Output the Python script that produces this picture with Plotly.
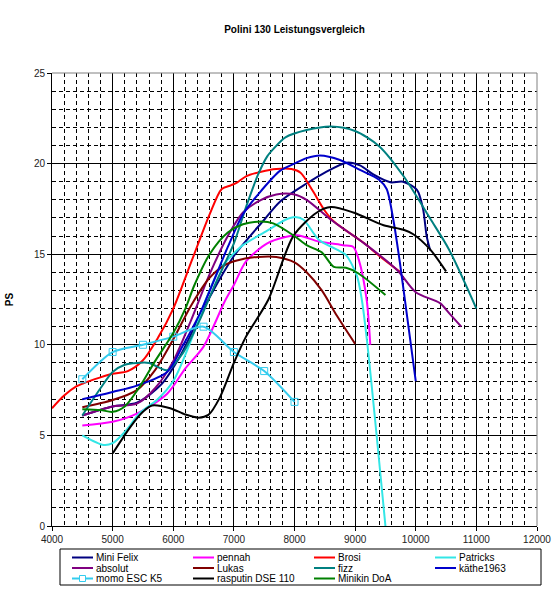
import plotly.graph_objects as go

# ---- data ----
mini_felix_rpm = [4500, 5000, 5400, 5800, 6100, 6500, 7000, 7500, 7760, 8200, 8500, 8860, 9080, 9300, 9580, 9790, 10020, 10120, 10180, 10240]
mini_felix_ps = [6.1, 6.6, 6.8, 7.8, 9.3, 12.0, 14.9, 16.9, 17.9, 18.9, 19.5, 20.05, 19.9, 19.4, 18.97, 19.0, 18.55, 17.5, 16.0, 15.2]

pennah_rpm = [4500, 5000, 5400, 5900, 6200, 6500, 6850, 7000, 7200, 7550, 7850, 8050, 8400, 8800, 8970, 9060, 9190, 9250]
pennah_ps = [5.55, 5.75, 6.2, 7.3, 8.7, 9.9, 12.4, 13.3, 14.6, 15.6, 15.95, 16.05, 15.7, 15.5, 15.4, 14.7, 12.5, 10.0]

brosi_rpm = [4000, 4200, 4400, 4500, 4800, 5000, 5250, 5500, 5750, 6000, 6300, 6600, 6800, 6950, 7050, 7200, 7450, 7700, 7950, 8100, 8300, 8500, 8650, 9150, 9400, 9750]
brosi_ps = [6.5, 7.2, 7.7, 7.85, 8.2, 8.4, 8.55, 9.15, 10.4, 12.0, 14.6, 17.2, 18.6, 18.8, 18.95, 19.3, 19.55, 19.7, 19.7, 19.5, 18.5, 17.4, 16.8, 15.6, 14.9, 14.0]

patricks_rpm = [4500, 4850, 5000, 5230, 5450, 5730, 6000, 6300, 6550, 6750, 6900, 7150, 7550, 7850, 8010, 8150, 8400, 8700, 8850, 9030, 9110, 9200, 9500]
patricks_ps = [5.0, 4.47, 4.57, 5.3, 6.25, 6.95, 8.0, 10.3, 12.6, 14.1, 14.7, 15.5, 16.3, 16.9, 17.05, 16.9, 15.8, 15.25, 14.95, 13.8, 12.5, 10.1, 0.0]

absolut_rpm = [4500, 5000, 5400, 5700, 6000, 6300, 6600, 6900, 7150, 7450, 7700, 8000, 8200, 8600, 9150, 9700, 10000, 10400, 10550, 10750]
absolut_ps = [6.1, 6.6, 6.75, 7.6, 9.1, 11.4, 13.9, 16.0, 17.3, 18.0, 18.3, 18.3, 18.0, 16.9, 15.6, 14.1, 12.9, 12.3, 11.75, 11.0]

lukas_rpm = [4500, 5000, 5400, 5700, 6000, 6300, 6600, 6850, 7050, 7400, 7700, 8000, 8200, 8450, 8700, 9000]
lukas_ps = [6.55, 6.95, 7.5, 8.6, 10.3, 12.2, 13.7, 14.4, 14.65, 14.85, 14.85, 14.55, 14.0, 13.0, 11.6, 10.05]

fizz_rpm = [4500, 4800, 5000, 5200, 5400, 5600, 5900, 6150, 6400, 6700, 7000, 7200, 7400, 7550, 7650, 7850, 8200, 8600, 9000, 9400, 9800, 10250, 10550, 11000]
fizz_ps = [6.1, 7.6, 8.5, 8.9, 9.0, 9.0, 8.6, 9.5, 11.1, 13.4, 15.6, 17.6, 19.4, 20.4, 20.8, 21.45, 21.85, 22.05, 21.8, 20.95, 19.3, 16.9, 15.25, 12.0]

kaethe_rpm = [4500, 5000, 5400, 5900, 6150, 6450, 6900, 7150, 7450, 7760, 8000, 8200, 8420, 8750, 9080, 9400, 9520, 9630, 9740, 9800, 10000]
kaethe_ps = [7.0, 7.4, 7.75, 8.5, 9.9, 11.8, 15.4, 17.2, 18.5, 19.6, 20.0, 20.3, 20.45, 20.2, 19.65, 19.1, 18.6, 16.9, 14.5, 13.0, 8.0]

momo_rpm = [4500, 5000, 5500, 6000, 6500, 7000, 7500, 8000]
momo_ps = [8.1, 9.6, 10.0, 10.45, 11.0, 9.6, 8.55, 6.85]

rasputin_rpm = [5000, 5300, 5500, 5650, 5950, 6200, 6420, 6580, 6770, 7000, 7200, 7570, 7980, 8370, 8600, 8970, 9470, 9800, 9960, 10240, 10500]
rasputin_ps = [4.0, 5.5, 6.3, 6.65, 6.5, 6.15, 5.98, 6.13, 7.1, 9.0, 10.45, 12.5, 16.0, 17.3, 17.6, 17.3, 16.6, 16.35, 16.1, 15.25, 14.05]

minikin_rpm = [4500, 4800, 5000, 5200, 5450, 5700, 6000, 6200, 6350, 6600, 6900, 7150, 7450, 7650, 8000, 8200, 8450, 8650, 8850, 9050, 9500]
minikin_ps = [6.45, 6.4, 6.3, 6.6, 7.7, 9.1, 10.65, 12.0, 13.3, 15.0, 16.2, 16.65, 16.8, 16.7, 16.0, 15.5, 15.1, 14.3, 14.25, 13.95, 12.75]

series = [
    ("Mini Felix", mini_felix_rpm, mini_felix_ps, "#000080"),
    ("pennah", pennah_rpm, pennah_ps, "#FF00FF"),
    ("Brosi", brosi_rpm, brosi_ps, "#FF0000"),
    ("Patricks", patricks_rpm, patricks_ps, "#33E6E6"),
    ("absolut", absolut_rpm, absolut_ps, "#800080"),
    ("Lukas", lukas_rpm, lukas_ps, "#800000"),
    ("fizz", fizz_rpm, fizz_ps, "#008080"),
    ("käthe1963", kaethe_rpm, kaethe_ps, "#0000CC"),
    ("momo ESC K5", momo_rpm, momo_ps, "#33CCEE"),
    ("rasputin DSE 110", rasputin_rpm, rasputin_ps, "#000000"),
    ("Minikin DoA", minikin_rpm, minikin_ps, "#008000"),
]
MARKER_SERIES = "momo ESC K5"

FONT = "Liberation Sans, Arial, sans-serif"
W, H = 558, 600
L, R, T, B = 52, 21, 73, 74
pw, ph = W - L - R, H - T - B

fig = go.Figure()
for name, xs, ys, col in series:
    has_marker = name == MARKER_SERIES
    fig.add_trace(go.Scatter(
        x=xs, y=ys, name=name, mode="lines+markers" if has_marker else "lines",
        line=dict(color=col, width=2, shape="spline", smoothing=0.8),
        marker=dict(symbol="square-open", size=7, color=col, line=dict(width=1, color=col)),
        showlegend=False,
    ))

# ---- legend drawn as a boxed block below the plot (4 columns, 3 rows) ----
def px_x(p):
    return (p - L) / pw

def px_y(p):
    return (T + ph - p) / ph

box_l, box_r, box_t, box_b = 60, 541, 549, 585
fig.add_shape(type="rect", xref="paper", yref="paper", x0=px_x(box_l), x1=px_x(box_r),
              y0=px_y(box_b), y1=px_y(box_t), line=dict(color="#000000", width=1), fillcolor="white")
col_x = [72, 193, 314, 435]
row_y = [557.5, 568, 578.5]
for i, (name, xs, ys, col) in enumerate(series):
    cx = col_x[i % 4]
    cy = row_y[i // 4]
    fig.add_shape(type="line", xref="paper", yref="paper", x0=px_x(cx), x1=px_x(cx + 21),
                  y0=px_y(cy), y1=px_y(cy), line=dict(color=col, width=2))
    if name == MARKER_SERIES:
        fig.add_shape(type="rect", xref="paper", yref="paper", x0=px_x(cx + 7.5), x1=px_x(cx + 13.5),
                      y0=px_y(cy + 3), y1=px_y(cy - 3), line=dict(color=col, width=1), fillcolor="white")
    fig.add_annotation(text=name, xref="paper", yref="paper", x=px_x(cx + 22), y=px_y(cy),
                       xanchor="left", yanchor="middle", showarrow=False,
                       font=dict(size=10, family=FONT, color="#000000"))

fig.update_layout(
    width=W, height=H,
    margin=dict(l=L, r=R, t=T, b=B, autoexpand=False),
    paper_bgcolor="white", plot_bgcolor="white",
    font=dict(family=FONT, size=10, color="#000000"),
    title=dict(text="<b>Polini 130 Leistungsvergleich</b>", x=(L + pw / 2) / W, xanchor="center",
               y=1 - 29 / H, yanchor="middle", font=dict(size=10, family=FONT)),
    xaxis=dict(range=[4000, 12000], dtick=1000, tick0=4000, tickformat="d",
               showgrid=True, gridcolor="#000000", gridwidth=1,
               minor=dict(dtick=200, showgrid=True, gridcolor="#000000", griddash="4px,3px", gridwidth=1),
               showline=True, linecolor="#000000", linewidth=1, ticks="outside", ticklen=4, tickcolor="#000000",
               zeroline=False, tickfont=dict(size=10, family=FONT, color="#222222")),
    yaxis=dict(range=[0, 25], dtick=5, tick0=0, tickformat="d",
               showgrid=True, gridcolor="#000000", gridwidth=1,
               minor=dict(dtick=1, showgrid=True, gridcolor="#000000", griddash="4px,3px", gridwidth=1),
               showline=True, linecolor="#000000", linewidth=1, ticks="outside", ticklen=4, tickcolor="#000000",
               zeroline=False, tickfont=dict(size=10, family=FONT, color="#222222"),
               title=dict(text="<b>PS</b>", standoff=18, font=dict(size=10, family=FONT))),
    showlegend=False,
)
# gray plot-area border on top and right
fig.add_shape(type="line", xref="paper", yref="paper", x0=0, x1=1, y0=1, y1=1, line=dict(color="#808080", width=1))
fig.add_shape(type="line", xref="paper", yref="paper", x0=1, x1=1, y0=0, y1=1, line=dict(color="#808080", width=1))

fig.write_html("out.html")
